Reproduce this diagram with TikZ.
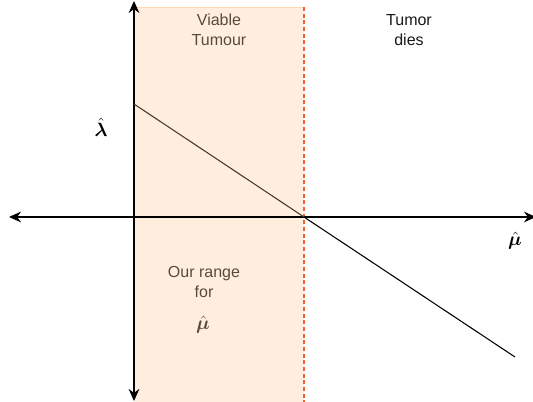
\documentclass[tikz,border=0pt]{standalone}
\usepackage{fontspec}
\usepackage{amsmath}
\usepackage{bm}
\setmainfont{Liberation Sans}
\usetikzlibrary{arrows.meta}
\definecolor{peach}{RGB}{255,238,222}
\definecolor{dashred}{RGB}{236,98,52}
\definecolor{intext}{RGB}{88,74,62}
\definecolor{intline}{RGB}{70,56,46}
\tikzset{
  axis/.style={line width=1.1pt,black,{Stealth[length=9pt,width=8pt]}-{Stealth[length=9pt,width=8pt]}},
  lbl/.style={font=\fontsize{12pt}{15pt}\selectfont,align=center,inner sep=0pt},
  inlbl/.style={lbl,text=intext},
  mlbl/.style={inner sep=0pt,font=\fontsize{14pt}{16pt}\selectfont}
}
\begin{document}
\begin{tikzpicture}[x=0.75pt,y=-0.75pt]
\useasboundingbox (0,0) rectangle (533,402);
% shaded region
\fill[peach] (135,7) rectangle (304,402);
\draw[peach!80!orange,line width=0.3pt] (135,7) -- (304,7);
\draw[dashred,dashed,line width=0.9pt,dash pattern=on 3pt off 2pt] (304,7) -- (304,402);
% axes
\coordinate (ytop) at (134,1);
\coordinate (ybot) at (134,401);
\coordinate (xleft) at (9,217);
\coordinate (xright) at (536,217);
\draw[axis] (ybot) -- (ytop);
\draw[axis] (xleft) -- (xright);
% line
\coordinate (lstart) at (134,104);
\coordinate (lcross) at (304,217);
\coordinate (lend) at (515,357);
\draw[intline,line width=0.8pt] (lstart) -- (lcross);
\draw[black,line width=0.8pt] (lcross) -- (lend);
% labels
\node[inlbl] (viable) at (219,30) {Viable\\Tumour};
\node[lbl,text=black!90] (dies) at (409,30) {Tumor\\dies};
\node[inlbl] (range) at (204,282) {Our range\\for};
\node[mlbl,text=intext] (mu2) at (203,325) {$\bm{\hat{\mu}}$};
\node[mlbl] (lam) at (101,127) {$\bm{\hat{\lambda}}$};
\node[mlbl] (mu) at (515,241) {$\bm{\hat{\mu}}$};
\end{tikzpicture}
\end{document}
